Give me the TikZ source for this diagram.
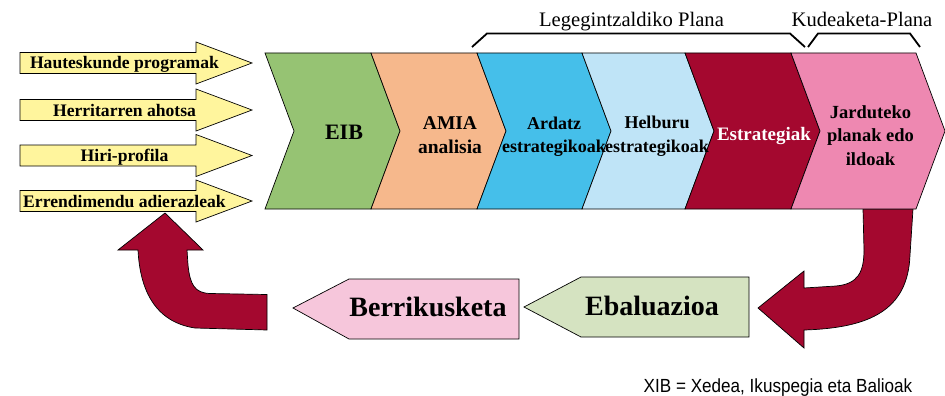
\documentclass[tikz,border=0pt]{standalone}
\usepackage{fontspec}
\setmainfont{Liberation Serif}
\newfontfamily\notefont[FakeStretch=0.9]{Liberation Sans}
\usetikzlibrary{calc}
\definecolor{inarrow}{HTML}{FFF59D}
\definecolor{eib}{HTML}{96C373}
\definecolor{amia}{HTML}{F6B88C}
\definecolor{ardatz}{HTML}{45BFEA}
\definecolor{helburu}{HTML}{BFE4F7}
\definecolor{estrat}{HTML}{A4082F}
\definecolor{jardu}{HTML}{EE88B1}
\definecolor{berri}{HTML}{F6C6DB}
\definecolor{ebal}{HTML}{D5E3C1}
\definecolor{cycred}{HTML}{A4082F}

\begin{document}
\begin{tikzpicture}[x=1pt,y=-1pt,
  outl/.style={draw=black,line width=0.7pt,line join=miter},
  intxt/.style={font=\fontsize{17.6}{20}\selectfont\bfseries,anchor=base,inner sep=0pt},
  chevtxt/.style={font=\fontsize{18}{23.5}\selectfont\bfseries,align=center,inner sep=0pt},
  bigtxt/.style={font=\fontsize{28}{32}\selectfont\bfseries,anchor=base,inner sep=0pt},
  plantxt/.style={font=\fontsize{20.6}{23}\selectfont,anchor=base,inner sep=0pt},
  brace/.style={line width=1.8pt},
  redarrow/.style={draw=black,line width=0.7pt,fill=cycred}]
  \useasboundingbox (0,0) rectangle (945,396);

  % Input arrows
  \foreach \yc/\txt [count=\i] in {63/Hauteskunde programak,110/Herritarren ahotsa,155.5/Hiri-profila,201/Errendimendu adierazleak}{
    \draw[outl,fill=inarrow] (20,\yc-10.5) -- (196,\yc-10.5) -- (196,\yc-21) -- (252,\yc)
      -- (196,\yc+21) -- (196,\yc+10.5) -- (20,\yc+10.5) -- cycle;
    \node[intxt] (in\i) at (124.5,\yc+6) {\txt};
  }

  % Feedback loop
  \draw[redarrow] (863,209) -- (913,209) -- (910,255) .. controls (908,310) and (870,328) .. (804,330)
    -- (804,348) -- (758,308) -- (804,271) -- (804,288) -- (836,286)
    .. controls (858,284) and (864,272) .. (864,250) -- cycle;
  \draw[redarrow] (165,213) -- (203,250) -- (187,250) -- (188,265) .. controls (190,285) and (195,293) .. (210,293.5)
    -- (267,294.5) -- (267,330) -- (195,328) .. controls (155,322) and (140,290) .. (138,250)
    -- (118,250) -- cycle;

  % Chevron band
  \foreach \xa/\xb/\col in {265/371/eib,371/477/amia,477/582/ardatz,582/685/helburu,685/791/estrat,791/916/jardu}
    \draw[outl,fill=\col] (\xa,53) -- (\xb,53) -- ++(29,78) -- (\xb,209) -- (\xa,209) -- ++(29,-78) -- cycle;

  \node[chevtxt,font=\fontsize{22}{26}\selectfont\bfseries,anchor=base] (eib) at (344,139) {EIB};
  \node[chevtxt,font=\fontsize{19.5}{24}\selectfont\bfseries] (amia) at (450,135) {AMIA\\analisia};
  \node[chevtxt] (ardatz) at (554,136.5) {Ardatz\\estrategikoak};
  \node[chevtxt] (helburu) at (657,136) {Helburu\\estrategikoak};
  \node[chevtxt,font=\fontsize{19}{23}\selectfont\bfseries,text=white,anchor=base] (estrat) at (764,140) {Estrategiak};
  \node[chevtxt,font=\fontsize{18.5}{23.5}\selectfont\bfseries] (jardu) at (870.5,135.6) {Jarduteko\\planak edo\\ildoak};

  % Plans
  \draw[brace] (472,47) -- (487,33.5) -- (790,33.5) -- (805,47);
  \draw[brace] (808,47) -- (818,33.5) -- (910,33.5) -- (920,47);
  \node[plantxt] (lege) at (631.5,27) {Legegintzaldiko Plana};
  \node[plantxt] (kude) at (862,27) {Kudeaketa-Plana};

  % Evaluation and review
  \draw[outl,fill=ebal] (524,307) -- (581,277) -- (749,277) -- (749,337) -- (581,337) -- cycle;
  \node[bigtxt] (ebal) at (652,315) {Ebaluazioa};
  \draw[outl,fill=berri] (293,308) -- (349,279) -- (519,279) -- (519,339) -- (349,339) -- cycle;
  \node[bigtxt] (berri) at (428,316.5) {Berrikusketa};

  \node[font=\notefont\fontsize{19}{22}\selectfont,anchor=base,inner sep=0pt] (note) at (778,392.5)
    {XIB = Xedea, Ikuspegia eta Balioak};
\end{tikzpicture}
\end{document}
